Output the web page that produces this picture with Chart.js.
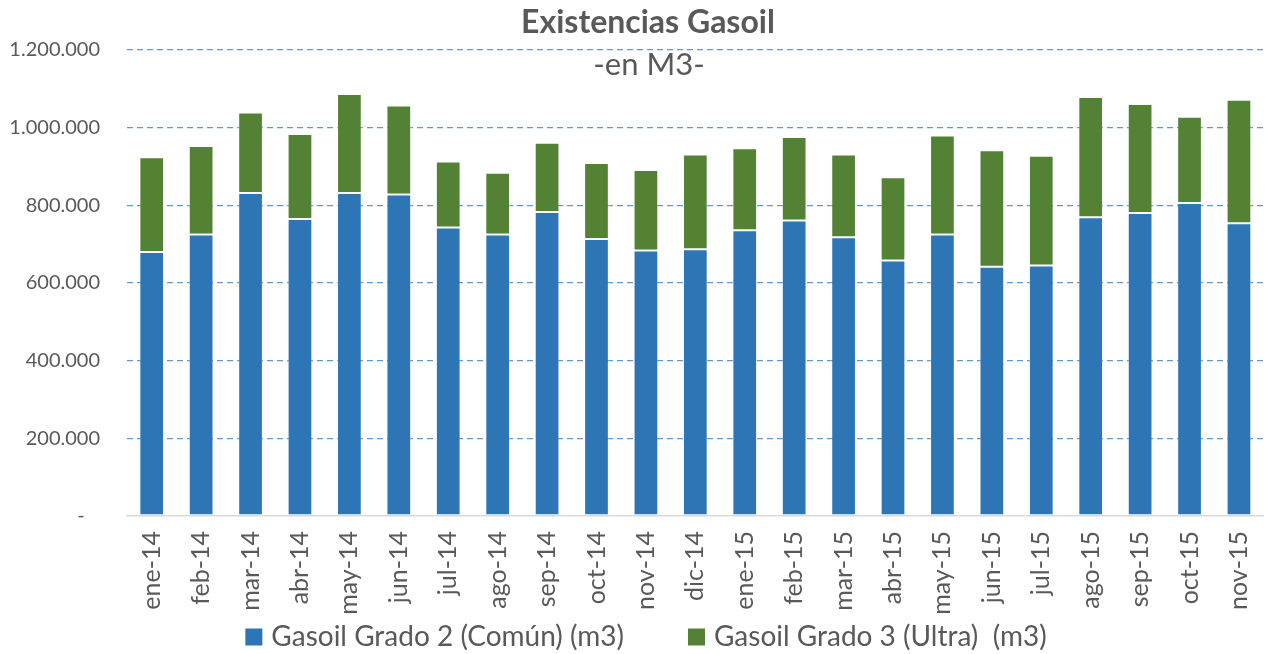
<!DOCTYPE html>
<html lang="es">
<head>
<meta charset="utf-8">
<title>Existencias Gasoil</title>
<script src="https://cdn.jsdelivr.net/npm/chart.js@4.4.1/dist/chart.umd.min.js"></script>
<style>
  html, body { margin: 0; padding: 0; background: #ffffff; }
  canvas { display: block; }
</style>
</head>
<body>
<canvas id="grafico" width="1284" height="654"></canvas>
<script>
// Meses del período
const meses = ['ene-14', 'feb-14', 'mar-14', 'abr-14', 'may-14', 'jun-14', 'jul-14', 'ago-14',
    'sep-14', 'oct-14', 'nov-14', 'dic-14', 'ene-15', 'feb-15', 'mar-15', 'abr-15', 'may-15',
    'jun-15', 'jul-15', 'ago-15', 'sep-15', 'oct-15', 'nov-15'];

// Existencias en m3 por tipo de gasoil
const grado2 = [680000, 725000, 832000, 765000, 832000, 828000, 743000, 725000, 783000, 713000,
    684000, 687000, 736000, 761000, 718000, 658000, 725000, 642000, 645000, 769000, 780000,
    806000, 754000];
const grado3 = [244000, 228000, 207000, 219000, 255000, 229000, 170000, 159000, 178000, 196000,
    207000, 244000, 211000, 215000, 213000, 214000, 255000, 300000, 283000, 310000, 281000,
    222000, 318000];

// Marcas del eje vertical
const marcasY = [0, 200000, 400000, 600000, 800000, 1000000, 1200000];

const titulo = 'Existencias Gasoil';
const subtitulo = '-en M3-';
const fuente = 'Lato, "DejaVu Sans", sans-serif';
const gris = '#595959';

// Formato con punto de miles, el cero se muestra como guion
function formatoMiles(valor) {
    if (valor === 0) return '-   ';
    return String(valor).replace(/\B(?=(\d{3})+(?!\d))/g, '.');
}

// Título y subtítulo centrados sobre el gráfico
const pluginTitulos = {
    id: 'titulos',
    afterDraw(chart) {
        const ctx = chart.ctx;
        ctx.save();
        ctx.fillStyle = gris;
        ctx.textAlign = 'center';
        ctx.textBaseline = 'alphabetic';
        ctx.font = 'bold 32px ' + fuente;
        ctx.fillText(titulo, 648, 33);
        ctx.font = '31px ' + fuente;
        ctx.fillText(subtitulo, 649, 75);
        ctx.restore();
    }
};

// Leyenda debajo de las etiquetas del eje X
const pluginLeyenda = {
    id: 'leyendaPropia',
    afterDraw(chart) {
        const ctx = chart.ctx;
        const caja = 17;
        const separacion = 64;
        ctx.save();
        ctx.font = '28px ' + fuente;
        ctx.textBaseline = 'middle';
        ctx.textAlign = 'left';
        const items = chart.data.datasets.map(ds => ({
            texto: ds.label,
            color: ds.backgroundColor,
            ancho: caja + 9 + ctx.measureText(ds.label).width
        }));
        const total = items.reduce((s, it) => s + it.ancho, 0) + separacion * (items.length - 1);
        let x = 646 - total / 2;
        const y = 637;
        items.forEach(it => {
            ctx.fillStyle = it.color;
            ctx.fillRect(x, y - caja / 2, caja, caja);
            ctx.fillStyle = gris;
            ctx.fillText(it.texto, x + caja + 9, y);
            x += it.ancho + separacion;
        });
        ctx.restore();
    }
};

const ctx = document.getElementById('grafico').getContext('2d');
const grafico = new Chart(ctx, {
    type: 'bar',
    data: {
        labels: meses,
        datasets: [{
            label: 'Gasoil Grado 2 (Común) (m3)',
            data: grado2,
            backgroundColor: '#2E75B6',
            borderColor: 'rgba(255, 255, 255, 0.3)',
            borderWidth: 1,
            borderSkipped: false
        }, {
            label: 'Gasoil Grado 3 (Ultra)  (m3)',
            data: grado3,
            backgroundColor: '#548235',
            borderColor: 'rgba(255, 255, 255, 0.3)',
            borderWidth: 1,
            borderSkipped: false
        }]
    },
    options: {
        responsive: false,
        animation: false,
        devicePixelRatio: 1,
        layout: { padding: { top: 50, right: 2, bottom: 0, left: 0 } },
        datasets: { bar: { categoryPercentage: 1, barPercentage: 0.5 } },
        plugins: {
            legend: { display: false },
            title: { display: false },
            tooltip: { enabled: false }
        },
        scales: {
            x: {
                stacked: true,
                grid: { display: false, drawTicks: false },
                border: { display: true, color: '#D9D9D9', width: 1.5 },
                ticks: {
                    color: gris,
                    font: { family: fuente, size: 25 },
                    minRotation: 90,
                    maxRotation: 90,
                    padding: 15
                },
                afterFit(scale) { scale.height = 138; }
            },
            y: {
                stacked: true,
                min: 0,
                max: 1200000,
                afterBuildTicks(scale) {
                    scale.ticks = marcasY.map(v => ({ value: v }));
                },
                grid: {
                    drawTicks: false,
                    color: c => c.tick && c.tick.value === 0 ? 'rgba(0,0,0,0)' : '#5B9BD5',
                    lineWidth: 1.3
                },
                border: { display: false, dash: [6, 4] },
                ticks: {
                    color: gris,
                    font: { family: fuente, size: 20 },
                    padding: 27,
                    callback: v => formatoMiles(v)
                },
                afterFit(scale) { scale.width = 127; }
            }
        }
    },
    plugins: [pluginTitulos, pluginLeyenda]
});
</script>
</body>
</html>
